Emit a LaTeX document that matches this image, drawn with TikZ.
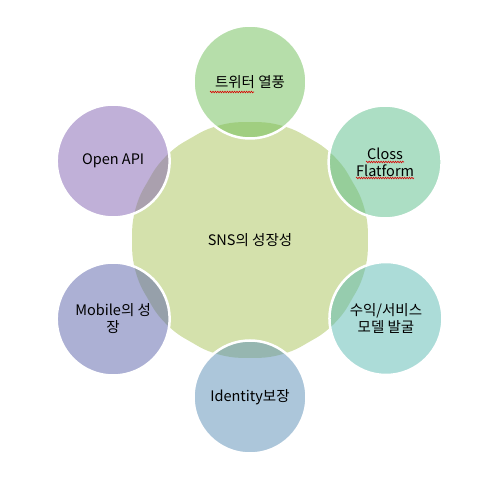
\documentclass[tikz,border=0pt]{standalone}
\usepackage{fontspec}
\newfontfamily\krfont{Noto Sans CJK KR}
\usetikzlibrary{shapes.geometric,decorations.pathmorphing}

\definecolor{snsgreen}{RGB}{212,225,172}
\definecolor{twtcol}{RGB}{109,189,85}
\definecolor{closscol}{RGB}{89,189,137}
\definecolor{revcol}{RGB}{89,185,177}
\definecolor{idcol}{RGB}{89,141,181}
\definecolor{mobcol}{RGB}{89,97,169}
\definecolor{apicol}{RGB}{129,97,177}

\begin{document}
\begin{tikzpicture}[x=1pt,y=1pt,
    txt/.style={font=\krfont\fontsize{14.5}{17}\selectfont,align=center,text=black},
    hub/.style={regular polygon,regular polygon sides=12,minimum size=244pt,
      inner sep=0pt,fill=snsgreen,rounded corners=22pt,txt},
    bubble/.style={circle,minimum size=113pt,inner sep=0pt,fill=#1,
      fill opacity=0.5,text opacity=1,draw=white,line width=2.5pt,txt},
    spellwave/.style={draw=red!85!black,line width=0.6pt,decorate,
      decoration={zigzag,amplitude=0.8pt,segment length=2.4pt}}]
   \useasboundingbox (-250,-238) rectangle (234,240);
   \node[hub] (sns) at (0,0) {SNS의 성장성};
   \node[bubble=twtcol] (twitter) at (90:158) {트위터 열풍};
   \node[bubble=closscol] (closs) at (30:156) {Closs\\Flatform};
   \node[bubble=revcol] (revenue) at (-30:157) {수익/서비스\\모델 발굴};
   \node[bubble=idcol] (identity) at (-90:157) {Identity보장};
   \node[bubble=mobcol] (mobile) at (-150:158) {Mobile의 성\\장};
   \node[bubble=apicol] (openapi) at (150:158) {Open API};
   % spell-check marks
   \draw[spellwave] ([shift={(-40,-10)}]twitter.center) -- ++(44,0);
   \draw[spellwave] ([shift={(-19,0)}]closs.center) -- ++(38,0);
   \draw[spellwave] ([shift={(-29,-16)}]closs.center) -- ++(58,0);
\end{tikzpicture}
\end{document}
